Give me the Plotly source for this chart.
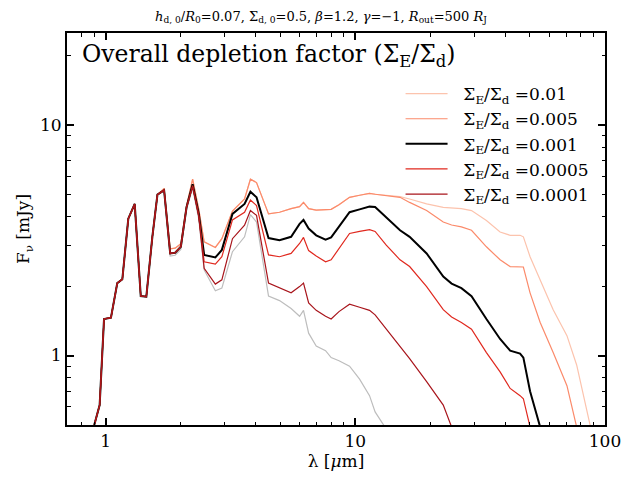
import plotly.graph_objects as go
import math

# wavelength grid (micron)
wavelength = [0.9, 0.946, 0.985, 1.05, 1.113, 1.166, 1.232, 1.307, 1.382, 1.455,
              1.538, 1.612, 1.714, 1.813, 1.898, 2.0, 2.108, 2.23, 2.36, 2.48,
              2.75, 2.92, 3.22, 3.6, 3.8, 4.02, 4.49, 4.97, 5.53, 5.98,
              6.2, 6.5, 6.97, 7.6, 8.0, 8.6, 9.48, 10.4, 11.4, 12.0,
              13.3, 15.1, 16.5, 19.3, 22.5, 24.3, 26.6, 29.2, 33.5, 38.0,
              41.7, 45.7, 47.1, 50.1, 55.0, 62.0, 70.4, 77.0, 87.5]

labels = ["0.01", "0.005", "0.001", "0.0005", "0.0001"]

# fluxes (mJy); None = below plotted range
flux_001 = [0.5, 0.61, 1.44, 1.46, 2.06, 2.14, 3.92, 4.54, 1.81, 1.80,
            3.27, 4.98, 5.3, 2.9, 2.92, 3.05, 4.45, 5.81, 4.3, 3.11,
            2.94, 3.21, 4.23, 4.77, 5.81, 5.62, 4.11, 4.18, 4.33, 4.42,
            4.61, 4.33, 4.27, 4.27, 4.30, 4.5, 4.85, 4.95, 5.04, 5.0,
            4.95, 4.88, 4.77, 4.54, 4.39, 4.36, 4.33, 4.25, 3.85, 3.43,
            3.32, 3.32, 3.27, 2.68, 2.13, 1.58, 1.22, 0.91, 0.49]
flux_0005 = [0.5, 0.61, 1.44, 1.46, 2.06, 2.14, 3.92, 4.54, 1.81, 1.80,
             3.27, 4.98, 5.3, 2.9, 2.92, 3.05, 4.45, 5.81, 4.3, 3.11,
             2.94, 3.21, 4.23, 4.77, 5.81, 5.62, 4.11, 4.18, 4.33, 4.42,
             4.61, 4.33, 4.27, 4.27, 4.30, 4.5, 4.85, 4.95, 5.04, 5.0,
             4.93, 4.85, 4.61, 4.25, 3.79, 3.68, 3.61, 3.49, 2.96, 2.60,
             2.43, 2.43, 2.42, 1.87, 1.39, 1.03, 0.74, 0.49, None]
flux_0001 = [0.5, 0.61, 1.44, 1.46, 2.06, 2.14, 3.92, 4.54, 1.81, 1.80,
             3.27, 4.98, 5.21, 2.77, 2.79, 2.96, 4.39, 5.53, 4.11, 2.73,
             2.66, 2.87, 4.11, 4.54, 5.13, 4.85, 3.23, 3.16, 3.27, 3.72,
             3.87, 3.55, 3.32, 3.18, 3.25, 3.6, 4.18, 4.3, 4.42, 4.4,
             3.98, 3.49, 3.27, 2.77, 2.20, 2.05, 1.96, 1.81, 1.44, 1.18,
             1.05, 1.02, 0.98, 0.70, 0.49, None, None, None, None]
flux_00005 = [0.5, 0.61, 1.44, 1.46, 2.06, 2.14, 3.92, 4.54, 1.81, 1.80,
              3.27, 4.98, 5.21, 2.77, 2.79, 2.96, 4.39, 5.45, 4.05, 2.55,
              2.49, 2.68, 3.87, 4.18, 4.72, 4.47, 2.73, 2.68, 2.77, 3.06,
              3.25, 2.85, 2.70, 2.55, 2.6, 2.9, 3.38, 3.45, 3.51, 3.45,
              3.01, 2.60, 2.43, 1.99, 1.58, 1.47, 1.39, 1.30, 1.03, 0.85,
              0.72, 0.67, 0.65, 0.49, None, None, None, None, None]
flux_00001 = [0.5, 0.61, 1.44, 1.46, 2.06, 2.14, 3.92, 4.54, 1.81, 1.80,
              3.27, 4.98, 5.21, 2.77, 2.79, 2.96, 4.39, 5.4, 4.0, 2.39,
              2.04, 2.13, 3.21, 3.67, 4.25, 4.05, 2.06, 1.96, 1.87, 1.99,
              2.06, 1.69, 1.57, 1.48, 1.44, 1.55, 1.67, 1.62, 1.57, 1.5,
              1.30, 1.09, 0.97, 0.77, 0.61, 0.49, None, None, None, None,
              None, None, None, None, None, None, None, None, None]
flux_grey = [0.5, 0.61, 1.44, 1.46, 2.06, 2.14, 3.92, 4.54, 1.81, 1.80,
             3.27, 4.98, 5.15, 2.7, 2.72, 2.88, 4.3, 5.3, 3.9, 2.35,
             1.91, 1.96, 2.82, 3.27, 4.08, 3.79, 1.81, 1.73, 1.6, 1.48,
             1.57, 1.25, 1.10, 1.05, 0.98, 0.95, 0.90, 0.79, 0.67, 0.57,
             0.48, None, None, None, None, None, None, None, None, None,
             None, None, None, None, None, None, None, None, None]

series = [
    (flux_001, "#fcc3ad", 1.2),
    (flux_0005, "#fb8a6a", 1.2),
    (flux_0001, "#000000", 2.0),
    (flux_00005, "#e0281e", 1.2),
    (flux_00001, "#a8141b", 1.2),
]

fig = go.Figure()
fig.add_trace(go.Scatter(x=wavelength, y=flux_grey, mode="lines",
                         line=dict(color="#bdbdbd", width=1.2),
                         showlegend=False, hoverinfo="skip"))
for (vals, col, w), lab in zip(series, labels):
    fig.add_trace(go.Scatter(
        x=wavelength, y=vals, mode="lines",
        line=dict(color=col, width=w),
        name="&nbsp;&nbsp;Σ<sub>E</sub>/Σ<sub>d</sub> =" + lab))

font_fam = "DejaVu Serif"
fig.update_layout(
    width=626, height=471,
    margin=dict(l=59, r=29, t=25, b=48),
    plot_bgcolor="white", paper_bgcolor="white",
    font=dict(family=font_fam, color="black", size=16),
    title=dict(
        text="<i>h</i><sub>d, 0</sub>/<i>R</i><sub>0</sub>=0.07, Σ<sub>d, 0</sub>=0.5, "
             "<i>β</i>=1.2, <i>γ</i>=−1, <i>R</i><sub>out</sub>=500 <i>R</i><sub>J</sub>",
        x=0.5, xanchor="center", y=0.983, yanchor="middle",
        font=dict(size=13, family=font_fam)),
    legend=dict(x=0.62, y=0.89, xanchor="left", yanchor="top",
                bgcolor="rgba(0,0,0,0)", font=dict(size=17, family=font_fam),
                tracegroupgap=0, itemwidth=42),
    showlegend=True,
)
minor_x = [0.7, 0.8, 0.9, 2, 3, 4, 5, 6, 7, 8, 9, 20, 30, 40, 50, 60, 70, 80, 90]
minor_y = [0.5, 0.6, 0.7, 0.8, 0.9, 2, 3, 4, 5, 6, 7, 8, 9, 20]
fig.update_xaxes(type="log", range=[math.log10(0.7), 2],
                 tickvals=[1, 10, 100], ticktext=["1", "10", "100"],
                 ticks="inside", ticklen=7, tickwidth=1.5, tickcolor="black",
                 minor=dict(tickvals=minor_x, ticks="inside", ticklen=3.5,
                            tickwidth=1.2, tickcolor="black", showgrid=False),
                 showline=True, linecolor="black", linewidth=2, mirror="ticks",
                 showgrid=False, zeroline=False,
                 tickfont=dict(size=17),
                 title=dict(text="λ [<i>μ</i>m]", font=dict(size=17), standoff=4))
fig.update_yaxes(type="log", range=[math.log10(0.5), math.log10(25)],
                 tickvals=[1, 10], ticktext=["1", "10"],
                 ticks="inside", ticklen=7, tickwidth=1.5, tickcolor="black",
                 minor=dict(tickvals=minor_y, ticks="inside", ticklen=3.5,
                            tickwidth=1.2, tickcolor="black", showgrid=False),
                 showline=True, linecolor="black", linewidth=2, mirror="ticks",
                 showgrid=False, zeroline=False,
                 tickfont=dict(size=17),
                 title=dict(text="F<sub>ν</sub> [mJy]", font=dict(size=17), standoff=6))
fig.add_annotation(text="Overall depletion factor (Σ<sub>E</sub>/Σ<sub>d</sub>)",
                   xref="paper", yref="paper", x=0.025, y=0.942,
                   xanchor="left", yanchor="middle", showarrow=False,
                   font=dict(size=23.5, family=font_fam))
fig.write_html("out.html")
